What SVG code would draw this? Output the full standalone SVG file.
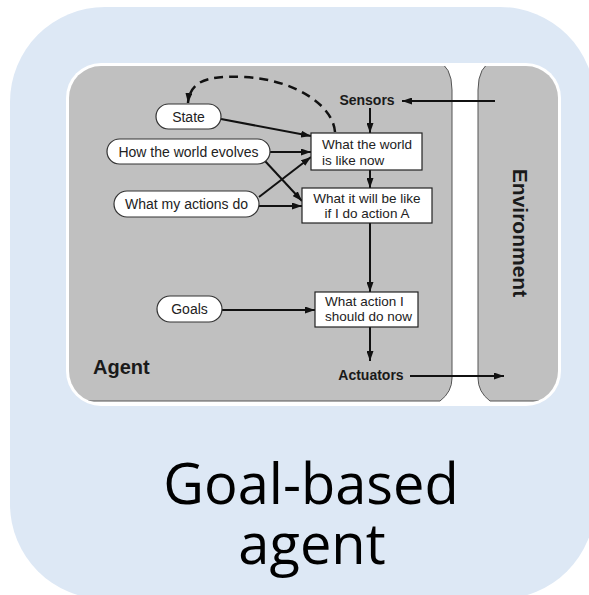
<svg xmlns="http://www.w3.org/2000/svg" width="589" height="595" viewBox="0 0 589 595">
  <style>
    .oval { fill: #ffffff; stroke: #333333; stroke-width: 1.2; }
    .box { fill: #ffffff; stroke: #222222; stroke-width: 1.2; }
    .lbl { font-family: "Liberation Sans", Arial, sans-serif; font-size: 14px; fill: #222222; }
    .blbl { font-family: "Liberation Sans", Arial, sans-serif; font-size: 13.5px; fill: #222222; }
    .bold { font-family: "Liberation Sans", Arial, sans-serif; font-weight: bold; fill: #1a1a1a; }
    .conn { fill: none; stroke: #111111; stroke-width: 2; marker-end: url(#arrow); }
    .dash { fill: none; stroke: #111111; stroke-width: 2.5; stroke-dasharray: 9 6; marker-end: url(#arrow); }
    .title { font-family: "Open Sans", "Noto Sans", sans-serif; font-size: 56px; fill: #000000; text-anchor: middle; }
  </style>
  <defs>
    <marker id="arrow" viewBox="0 0 10 7" refX="10" refY="3.5" markerWidth="10" markerHeight="7" markerUnits="userSpaceOnUse" orient="auto">
      <path d="M0,0 L10,3.5 L0,7 z" fill="#111111"/>
    </marker>
    <clipPath id="frameClip">
      <rect x="69" y="66" width="489" height="337" rx="32" ry="32"/>
    </clipPath>
  </defs>

  <!-- outer panel -->
  <rect id="panel" x="10" y="7" width="585" height="592" rx="95" ry="95" fill="#dde8f5"/>

  <!-- picture frame -->
  <rect x="66" y="63" width="495" height="343" rx="35" ry="35" fill="#ffffff"/>
  <g clip-path="url(#frameClip)">
    <path id="agent-area" d="M60,60 H436 Q452,66 452,90 V378 Q452,392 440,401 H60 Z" fill="#c0c0c0" stroke="#555555" stroke-width="1"/>
    <path id="env-area" d="M478,90 Q478,66 494,60 H575 V401 H490 Q478,392 478,378 Z" fill="#c0c0c0" stroke="#555555" stroke-width="1"/>
  </g>

  <g id="connectors">
    <path class="dash" d="M335,132 C333,105 295,80 245,77 C205,75 190,82 188,103"/>
    <line class="conn" x1="495" y1="101" x2="402" y2="101"/>
    <line class="conn" x1="370" y1="108" x2="370" y2="133"/>
    <line class="conn" x1="370" y1="170" x2="370" y2="188"/>
    <line class="conn" x1="370" y1="223" x2="370" y2="292"/>
    <line class="conn" x1="370" y1="327" x2="370" y2="361"/>
    <line class="conn" x1="410" y1="376" x2="504" y2="376"/>
    <line class="conn" x1="221" y1="119" x2="311" y2="136"/>
    <line class="conn" x1="270" y1="152" x2="311" y2="152"/>
    <line class="conn" x1="265" y1="161" x2="302" y2="201"/>
    <line class="conn" x1="259" y1="197" x2="311" y2="157"/>
    <line class="conn" x1="259" y1="206" x2="302" y2="206"/>
    <line class="conn" x1="222" y1="310" x2="315" y2="310"/>
  </g>

  <g id="node-state">
    <rect class="oval" x="156" y="104" width="65" height="25" rx="12.5" ry="12.5"/>
    <text class="lbl" x="188.5" y="121.5" text-anchor="middle">State</text>
  </g>
  <g id="node-evolves">
    <rect class="oval" x="107" y="139" width="163" height="25" rx="12.5" ry="12.5"/>
    <text class="lbl" x="188.5" y="156.5" text-anchor="middle">How the world evolves</text>
  </g>
  <g id="node-actions">
    <rect class="oval" x="114" y="191" width="145" height="26" rx="13" ry="13"/>
    <text class="lbl" x="186.5" y="209" text-anchor="middle">What my actions do</text>
  </g>
  <g id="node-goals">
    <rect class="oval" x="157" y="296" width="65" height="26" rx="13" ry="13"/>
    <text class="lbl" x="189.5" y="314" text-anchor="middle">Goals</text>
  </g>
  <g id="node-world-now">
    <rect class="box" x="311" y="133" width="111" height="37"/>
    <text class="blbl" x="322" y="149">What the world</text>
    <text class="blbl" x="322" y="164.5">is like now</text>
  </g>
  <g id="node-will-be">
    <rect class="box" x="302" y="188" width="130" height="35"/>
    <text class="blbl" x="367" y="202.5" text-anchor="middle">What it will be like</text>
    <text class="blbl" x="367" y="218" text-anchor="middle">if I do action A</text>
  </g>
  <g id="node-action">
    <rect class="box" x="315" y="292" width="103" height="35"/>
    <text class="blbl" x="325" y="305.5">What action I</text>
    <text class="blbl" x="325" y="321">should do now</text>
  </g>
  <g id="node-sensors">
    <text class="bold" x="367" y="105" font-size="14" text-anchor="middle">Sensors</text>
  </g>
  <g id="node-actuators">
    <text class="bold" x="371" y="380" font-size="14" text-anchor="middle">Actuators</text>
  </g>
  <g id="label-agent">
    <text class="bold" x="93" y="374" font-size="20">Agent</text>
  </g>
  <g id="label-environment">
    <text class="bold" transform="translate(513,233) rotate(90)" font-size="21" text-anchor="middle">Environment</text>
  </g>

  <g id="title">
    <text class="title" x="311" y="504">Goal-based</text>
    <text class="title" x="312" y="564">agent</text>
  </g>
</svg>
